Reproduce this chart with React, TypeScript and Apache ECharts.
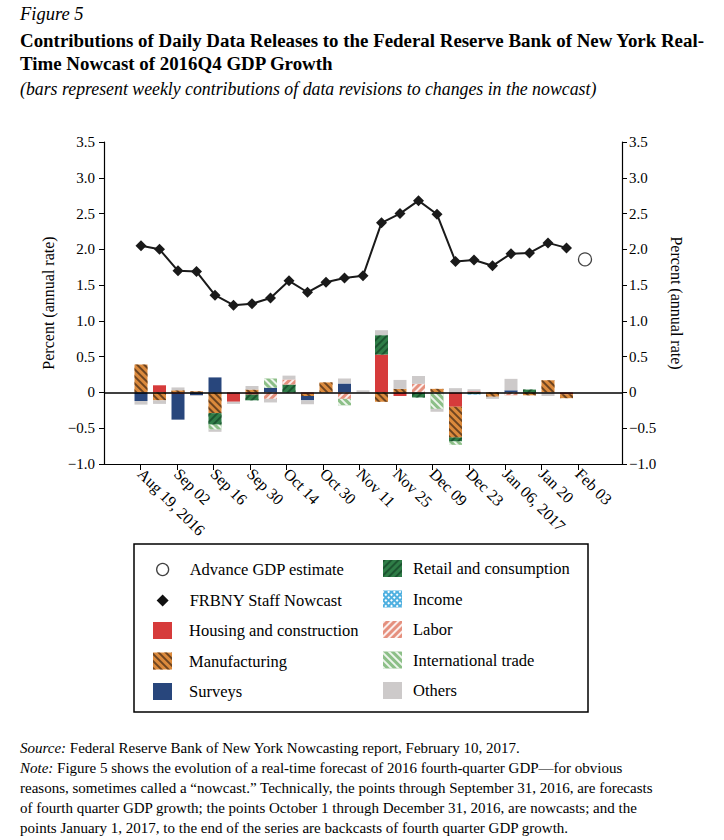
import React, { useEffect, useRef } from "react";
import * as echarts from "echarts";

const FONT = '"Liberation Serif", "Times New Roman", serif';

// weekly points: Aug 19, 2016 ... Jan 27, 2017 ; advance estimate one week after
const weeks = ["Aug 19", "Aug 26", "Sep 02", "Sep 09", "Sep 16", "Sep 23", "Sep 30", "Oct 07", "Oct 14", "Oct 21", "Oct 28", "Nov 04", "Nov 11", "Nov 18", "Nov 25", "Dec 02", "Dec 09", "Dec 16", "Dec 23", "Dec 30", "Jan 06", "Jan 13", "Jan 20", "Jan 27", "Feb 03"];
const nowcast = [2.05, 2.0, 1.7, 1.69, 1.36, 1.22, 1.24, 1.32, 1.56, 1.4, 1.54, 1.6, 1.63, 2.37, 2.5, 2.68, 2.49, 1.83, 1.85, 1.77, 1.94, 1.95, 2.09, 2.02];
const advanceWeek = "Feb 03";
const advanceValue = 1.86;

const housing = [0, 0.1, -0.02, 0, 0, -0.13, -0.03, 0, 0, -0.02, 0, 0, 0, 0.53, -0.05, 0, 0, -0.2, 0.015, 0, 0, 0, 0, -0.025];
const manufacturing = [0.39, -0.11, 0.03, 0.015, -0.29, 0, 0.04, 0, 0, -0.03, 0.14, 0, 0, -0.13, 0.05, 0, 0.05, -0.43, 0, -0.06, 0, -0.04, 0.17, -0.055];
const surveys = [-0.12, 0, -0.36, -0.04, 0.21, 0, 0, 0.065, 0, -0.06, 0, 0.125, 0, 0, 0, 0, 0, 0, 0, 0, 0.03, 0, 0, 0];
const retail = [0, 0, 0, 0, -0.16, 0, -0.08, 0, 0.11, 0, 0, 0, 0, 0.27, 0, -0.07, 0, -0.055, -0.02, 0, 0, 0.04, 0, 0];
const income = [0, 0, 0, 0, 0, 0, 0, 0, 0, 0, 0, 0, 0, 0, 0, 0, 0, 0, -0.01, 0, 0, 0, 0, 0];
const labor = [0, 0, 0, 0, 0, 0, 0, -0.09, 0.07, 0, 0, -0.09, 0, 0, 0, 0.12, 0, 0, 0, 0, -0.04, 0, 0, 0];
const intlTrade = [0, 0, 0, 0, -0.07, 0, 0, 0.13, 0, 0, 0, -0.09, 0, 0, 0, 0, -0.23, -0.047, 0, 0, 0, 0, 0, 0];
const others = [-0.05, -0.05, 0.04, -0.01, -0.03, -0.03, 0.05, -0.05, 0.055, -0.055, 0, 0.07, 0.03, 0.07, 0.125, 0.11, -0.04, 0.06, 0.03, -0.03, 0.16, 0, -0.05, 0];

const tickLabels = ["Aug 19, 2016", "Sep 02", "Sep 16", "Sep 30", "Oct 14", "Oct 30", "Nov 11", "Nov 25", "Dec 09", "Dec 23", "Jan 06, 2017", "Jan 20", "Feb 03"];

const noteLines = [
  "{i|Note:} Figure 5 shows the evolution of a real-time forecast of 2016 fourth-quarter GDP\u2014for obvious",
  "reasons, sometimes called a \u201cnowcast.\u201d Technically, the points through September 31, 2016, are forecasts",
  "of fourth quarter GDP growth; the points October 1 through December 31, 2016, are nowcasts; and the",
  "points January 1, 2017, to the end of the series are backcasts of fourth quarter GDP growth.",
];

// two empty slots on each side of the weekly categories
const padBefore = ["", " "];
const padAfter = ["  ", "   "];
const categories = [...padBefore, ...weeks, ...padAfter];
const pad = (arr: number[]) => [...padBefore.map(() => null), ...arr];

const hatch = (bg: string, fg: string, rot: number, dy: number[] = [1.6, 3]) => ({
  color: bg,
  decal: { symbol: "rect", symbolSize: 1, color: fg, dashArrayX: [1, 0], dashArrayY: dy, rotation: rot },
});

const barDefs = [
  { name: "Housing and construction", data: housing, style: { color: "#d63b3b" } },
  { name: "Manufacturing", data: manufacturing, style: hatch("#dc8a3c", "#6e4420", Math.PI / 4) },
  { name: "Surveys", data: surveys, style: { color: "#28467c" } },
  { name: "Retail and consumption", data: retail, style: hatch("#2f7d47", "#1c5530", -Math.PI / 4) },
  {
    name: "Income",
    data: income,
    style: {
      color: "#4fb0e0",
      decal: { symbol: "rect", symbolSize: 1, color: "#ffffff", dashArrayX: [2, 2], dashArrayY: [2, 2], rotation: Math.PI / 4 },
    },
  },
  { name: "Labor", data: labor, style: hatch("#e5907e", "rgba(255,255,255,0.85)", -Math.PI / 4) },
  { name: "International trade", data: intlTrade, style: hatch("#8cbf87", "rgba(255,255,255,0.85)", Math.PI / 4) },
  { name: "Others", data: others, style: { color: "#cdcaca" } },
];

const yFmt = (v: number) => (v === 0 ? "0" : (v < 0 ? "\u2212" : "") + Math.abs(v).toFixed(1));

export default function App() {
  const ref = useRef<HTMLDivElement>(null);
  useEffect(() => {
    if (!ref.current) return;
    const chart = echarts.init(ref.current, undefined, { renderer: "svg" });
    const tickIdx = tickLabels.map((_, i) => i);
    const yAxisBase = {
      type: "value",
      min: -1,
      max: 3.5,
      interval: 0.5,
      splitLine: { show: false },
      axisLine: { show: true, onZero: false, lineStyle: { color: "#000", width: 1.2 } },
      axisTick: { show: true, length: 5, lineStyle: { color: "#000", width: 1 } },
      name: "Percent (annual rate)",
      nameLocation: "middle",
      nameTextStyle: { fontFamily: FONT, fontSize: 16, color: "#000" },
    };
    const labelStyle = { fontFamily: FONT, fontSize: 15, color: "#000" };
    const series: any[] = barDefs.map((b, k) => ({
      type: "bar",
      name: b.name,
      stack: "contrib",
      barWidth: 13,
      xAxisIndex: 0,
      yAxisIndex: 0,
      itemStyle: b.style,
      data: pad(b.data),
      ...(k === barDefs.length - 1
        ? {
            markLine: {
              silent: true,
              symbol: ["none", "none"],
              label: { show: false },
              lineStyle: { color: "#000", width: 1.5, type: "solid" },
              data: [{ yAxis: 0 }],
            },
          }
        : {}),
    }));
    series.push({
      type: "line",
      name: "FRBNY Staff Nowcast",
      xAxisIndex: 0,
      yAxisIndex: 0,
      symbol: "diamond",
      symbolSize: 11,
      itemStyle: { color: "#1a1a1a" },
      lineStyle: { color: "#1a1a1a", width: 2 },
      z: 5,
      data: pad(nowcast),
    });
    series.push({
      type: "scatter",
      name: "Advance GDP estimate",
      xAxisIndex: 0,
      yAxisIndex: 0,
      symbol: "circle",
      symbolSize: 13,
      itemStyle: { color: "#fff", borderColor: "#111", borderWidth: 1.3 },
      z: 5,
      data: [[advanceWeek, advanceValue]],
    });

    const legendText = (p: number) => ({
      fontFamily: FONT,
      fontSize: 16.5,
      color: "#000",
      padding: [0, 0, 0, p],
    });
    const rectItems = (names: string[]) => names.map((n) => ({ name: n, icon: "rect" }));

    chart.setOption({
      animation: false,
      backgroundColor: "#fff",
      textStyle: { fontFamily: FONT },
      grid: { left: 104, right: 102, top: 142, bottom: 376, containLabel: false, outerBoundsMode: "none" },
      xAxis: [
        { type: "category", data: categories, boundaryGap: false, show: false },
        {
          type: "value",
          min: -1,
          max: 13.2,
          position: "bottom",
          splitLine: { show: false },
          axisLine: { show: true, onZero: false, lineStyle: { color: "#000", width: 1.2 } },
          axisTick: { show: true, length: 6, customValues: tickIdx, lineStyle: { color: "#000", width: 1 } },
          axisLabel: {
            ...labelStyle,
            fontSize: 16,
            customValues: tickIdx,
            rotate: -45,
            margin: 7,
            formatter: (v: number) => tickLabels[Math.round(v)] ?? "",
          },
        },
      ],
      yAxis: [
        {
          ...yAxisBase,
          position: "left",
          nameGap: 32,
          nameRotate: 90,
          axisLabel: { ...labelStyle, margin: 9, formatter: yFmt },
        },
        {
          ...yAxisBase,
          position: "right",
          nameGap: 46,
          nameRotate: -90,
          axisLabel: { ...labelStyle, margin: 7, formatter: yFmt },
        },
      ],
      legend: [
        {
          orient: "vertical",
          left: 156,
          top: 561,
          padding: 0,
          itemWidth: 12,
          itemHeight: 12,
          itemGap: 14,
          selectedMode: false,
          textStyle: legendText(16),
          data: [
            { name: "Advance GDP estimate", icon: "circle", itemStyle: { color: "#fff", borderColor: "#111", borderWidth: 1.3 } },
            { name: "FRBNY Staff Nowcast", icon: "diamond", itemStyle: { color: "#111" } },
          ],
        },
        {
          orient: "vertical",
          left: 153,
          top: 622,
          padding: 0,
          itemWidth: 19,
          itemHeight: 17,
          itemGap: 13.5,
          selectedMode: false,
          textStyle: legendText(12),
          data: rectItems(["Housing and construction", "Manufacturing", "Surveys"]),
        },
        {
          orient: "vertical",
          left: 383,
          top: 560,
          padding: 0,
          itemWidth: 19,
          itemHeight: 17,
          itemGap: 13.5,
          selectedMode: false,
          textStyle: legendText(6),
          data: rectItems(["Retail and consumption", "Income", "Labor", "International trade", "Others"]),
        },
      ],
      graphic: [
        {
          type: "text",
          x: 20,
          y: 14,
          style: { text: "Figure 5", font: `italic 18.5px ${FONT}`, fill: "#000", verticalAlign: "middle" },
        },
        {
          type: "text",
          x: 20,
          y: 40,
          style: {
            text: "Contributions of Daily Data Releases to the Federal Reserve Bank of New York Real-",
            font: `bold 18.9px ${FONT}`,
            fill: "#000",
            verticalAlign: "middle",
          },
        },
        {
          type: "text",
          x: 20,
          y: 63,
          style: { text: "Time Nowcast of 2016Q4 GDP Growth", font: `bold 18.9px ${FONT}`, fill: "#000", verticalAlign: "middle" },
        },
        {
          type: "text",
          x: 20,
          y: 89,
          style: {
            text: "(bars represent weekly contributions of data revisions to changes in the nowcast)",
            font: `italic 17.8px ${FONT}`,
            fill: "#000",
            verticalAlign: "middle",
          },
        },
        {
          type: "rect",
          shape: { x: 134, y: 544, width: 454, height: 168 },
          style: { fill: "none", stroke: "#000", lineWidth: 1.5 },
        },
        {
          type: "text",
          x: 20,
          y: 748,
          style: {
            text: "{i|Source:} Federal Reserve Bank of New York Nowcasting report, February 10, 2017.",
            font: `15px ${FONT}`,
            fill: "#000",
            verticalAlign: "middle",
            rich: { i: { fontStyle: "italic", fontFamily: FONT, fontSize: 15 } },
          },
        },
        ...noteLines.map((t, i) => ({
          type: "text",
          x: 20,
          y: 768 + i * 20,
          style: {
            text: t,
            font: `15px ${FONT}`,
            fill: "#000",
            verticalAlign: "middle",
            rich: { i: { fontStyle: "italic", fontFamily: FONT, fontSize: 15 } },
          },
        })),
      ],
      series,
    });
    return () => chart.dispose();
  }, []);
  return <div ref={ref} style={{ position: "fixed", left: 0, top: 0, width: 724, height: 840, background: "#fff" }} />;
}
